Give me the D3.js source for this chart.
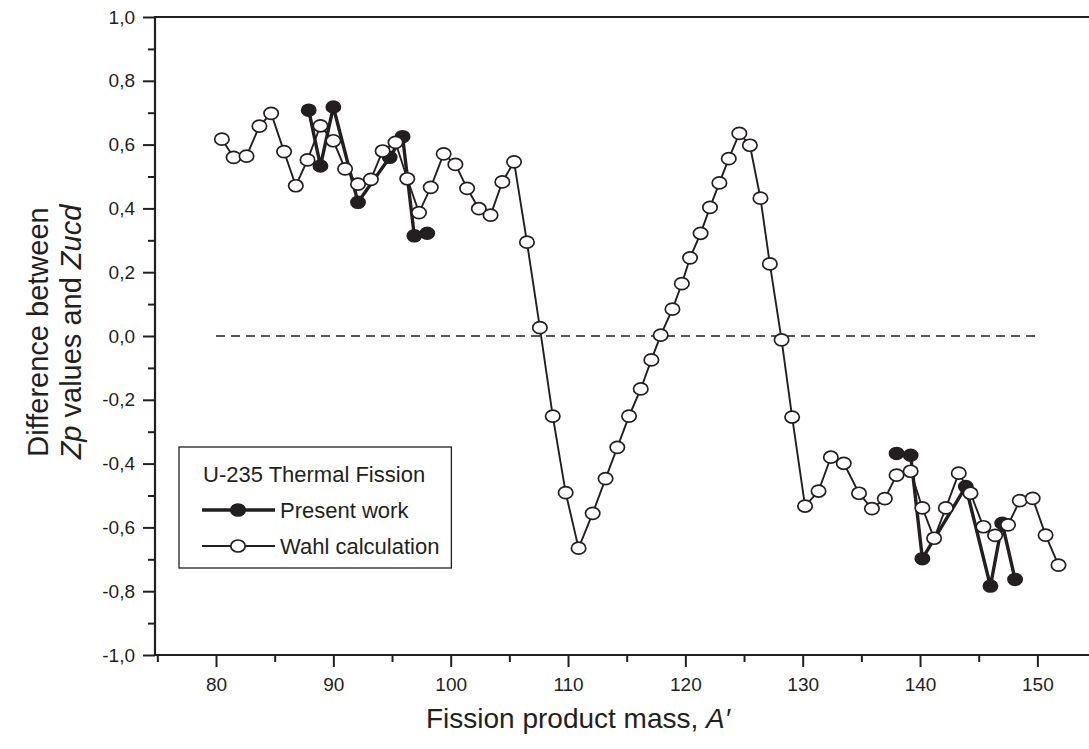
<!DOCTYPE html>
<html>
<head>
<meta charset="utf-8">
<script src="https://cdn.jsdelivr.net/npm/d3@7/dist/d3.min.js"></script>
<style>
  html, body { margin: 0; padding: 0; background: #fff; }
  svg { display: block; font-family: "Liberation Sans", Arial, sans-serif; }
</style>
</head>
<body>
<div id="chart"></div>
<script>
// Wahl calculation (open circles)
const wahlMass = [80.5, 81.5, 82.6, 83.7, 84.7, 85.8, 86.8, 87.8, 88.9, 90.0,
  91.0, 92.1, 93.2, 94.2, 95.3, 96.3, 97.3, 98.3, 99.4, 100.4,
  101.4, 102.4, 103.4, 104.4, 105.4, 106.5, 107.6, 108.7, 109.8, 110.9,
  112.1, 113.2, 114.2, 115.2, 116.2, 117.1, 117.9, 118.9, 119.7, 120.4,
  121.3, 122.1, 122.9, 123.7, 124.6, 125.5, 126.4, 127.2, 128.2, 129.1,
  130.2, 131.35, 132.4, 133.5, 134.8, 135.9, 137.0, 138.0, 139.2, 140.2,
  141.2, 142.2, 143.3, 144.3, 145.4, 146.4, 147.5, 148.5, 149.6, 150.7, 151.8];
const wahlDiff = [0.617, 0.560, 0.564, 0.658, 0.698, 0.578, 0.471, 0.552, 0.659, 0.612,
  0.524, 0.476, 0.491, 0.580, 0.607, 0.493, 0.387, 0.466, 0.571, 0.538,
  0.463, 0.399, 0.379, 0.483, 0.546, 0.294, 0.026, -0.251, -0.491, -0.665,
  -0.556, -0.447, -0.349, -0.251, -0.166, -0.075, 0.003, 0.084, 0.164, 0.245,
  0.322, 0.403, 0.480, 0.556, 0.635, 0.598, 0.432, 0.226, -0.012, -0.254,
  -0.533, -0.486, -0.380, -0.399, -0.493, -0.541, -0.510, -0.436, -0.424, -0.539,
  -0.634, -0.539, -0.430, -0.493, -0.598, -0.625, -0.592, -0.516, -0.509, -0.624, -0.718];

// Present work (filled circles), light and heavy fragment groups
const presentMass = [87.9, 88.9, 90.0, 92.1, 94.8, 95.9, 96.9, 98.0,
  138.0, 139.2, 140.2, 143.9, 146.0, 147.0, 148.1];
const presentDiff = [0.708, 0.533, 0.718, 0.419, 0.560, 0.625, 0.314, 0.322,
  -0.368, -0.374, -0.698, -0.472, -0.784, -0.587, -0.763];

const xTicks = [80, 90, 100, 110, 120, 130, 140, 150];
const yTicks = [-1.0, -0.8, -0.6, -0.4, -0.2, 0.0, 0.2, 0.4, 0.6, 0.8, 1.0];
const legendTitle = "U-235 Thermal Fission";
const seriesNames = ["Present work", "Wahl calculation"];

const W = 1089, H = 749;
const ink = "#231f20";
const font = "\"Liberation Sans\", Arial, sans-serif";

const svg = d3.select("#chart").append("svg")
  .attr("width", W).attr("height", H);

const x = d3.scaleLinear().domain([74.8, 154.4]).range([155, 1089]);
const y = d3.scaleLinear().domain([-1, 1]).range([655, 17]);

// 轴
const commaFmt = v => d3.format(".1f")(v).replace(".", ",").replace("−", "-");

svg.append("g")
  .attr("transform", `translate(0,${y(-1)})`)
  .call(d3.axisBottom(x).tickValues(xTicks).tickSize(12).tickPadding(11).tickFormat(d3.format("d")))
  .call(g => g.select(".domain").remove());
svg.append("g")
  .attr("transform", `translate(0,${y(-1)})`)
  .call(d3.axisBottom(x).tickValues(d3.range(75, 155, 10)).tickSize(7).tickFormat(""))
  .call(g => g.select(".domain").remove());

svg.append("g")
  .attr("transform", `translate(${x.range()[0]},0)`)
  .call(d3.axisLeft(y).tickValues(yTicks).tickSize(12).tickPadding(8).tickFormat(commaFmt))
  .call(g => g.select(".domain").remove());
svg.append("g")
  .attr("transform", `translate(${x.range()[0]},0)`)
  .call(d3.axisLeft(y).tickValues(d3.range(-0.9, 1.0, 0.2)).tickSize(7).tickFormat(""))
  .call(g => g.select(".domain").remove());

svg.selectAll(".tick line").attr("stroke", ink).attr("stroke-width", 2);
svg.selectAll(".tick text")
  .attr("fill", ink)
  .style("font-family", font)
  .style("font-size", "19px");

// 框线
svg.append("path")
  .attr("d", `M${x.range()[1]},${y(1)}H${x.range()[0]}V${y(-1)}H${x.range()[1]}`)
  .attr("fill", "none").attr("stroke", ink).attr("stroke-width", 2.2);

// 零线
svg.append("line")
  .attr("x1", x(80)).attr("x2", x(150))
  .attr("y1", y(0)).attr("y2", y(0))
  .attr("stroke", ink).attr("stroke-width", 1.6)
  .attr("stroke-dasharray", "9,6");

const wahl = wahlMass.map((m, i) => ({ m, v: wahlDiff[i] }));
const present = presentMass.map((m, i) => ({ m, v: presentDiff[i] }));
const presentSegs = [present.filter(d => d.m < 115), present.filter(d => d.m >= 115)];

const line = d3.line().x(d => x(d.m)).y(d => y(d.v));
const rx = 7.2, ry = 6.0;

// Present work
svg.append("g").selectAll("path")
  .data(presentSegs).enter().append("path")
  .attr("d", line)
  .attr("fill", "none").attr("stroke", ink).attr("stroke-width", 3.4);
svg.append("g").selectAll("ellipse")
  .data(present).enter().append("ellipse")
  .attr("cx", d => x(d.m)).attr("cy", d => y(d.v))
  .attr("rx", rx).attr("ry", ry)
  .attr("fill", ink).attr("stroke", ink).attr("stroke-width", 1.5);

// Wahl calculation
svg.append("path").datum(wahl)
  .attr("d", line)
  .attr("fill", "none").attr("stroke", ink).attr("stroke-width", 1.9);
svg.append("g").selectAll("ellipse")
  .data(wahl).enter().append("ellipse")
  .attr("cx", d => x(d.m)).attr("cy", d => y(d.v))
  .attr("rx", rx).attr("ry", ry)
  .attr("fill", "#fff").attr("stroke", ink).attr("stroke-width", 1.7);

// 轴标题
const xt = svg.append("text")
  .attr("x", 578).attr("y", 728)
  .attr("text-anchor", "middle").attr("fill", ink)
  .style("font-family", font).style("font-size", "28px");
xt.append("tspan").text("Fission product mass,  ");
xt.append("tspan").attr("font-style", "italic").text("A′");

const yt = svg.append("g").attr("transform", "translate(0,332) rotate(-90)");
yt.append("text")
  .attr("x", 0).attr("y", 48)
  .attr("text-anchor", "middle").attr("fill", ink)
  .style("font-family", font).style("font-size", "29px")
  .text("Difference between");
const yt2 = yt.append("text")
  .attr("x", 0).attr("y", 81)
  .attr("text-anchor", "middle").attr("fill", ink)
  .style("font-family", font).style("font-size", "29px");
yt2.append("tspan").attr("font-style", "italic").text("Zp");
yt2.append("tspan").text("  values and  ");
yt2.append("tspan").attr("font-style", "italic").text("Zucd");

// 图例
const lg = svg.append("g");
const box = lg.append("rect")
  .attr("x", 179).attr("y", 447).attr("height", 121)
  .attr("fill", "#fff").attr("stroke", ink).attr("stroke-width", 1.3);
const texts = [];
texts.push(lg.append("text")
  .attr("x", 203).attr("y", 482).attr("fill", ink)
  .style("font-family", font).style("font-size", "22px")
  .text(legendTitle));

const rows = [
  { name: seriesNames[0], yy: 510, fill: ink, sw: 3.4 },
  { name: seriesNames[1], yy: 546, fill: "#fff", sw: 1.9 }
];
rows.forEach(r => {
  lg.append("line")
    .attr("x1", 202).attr("x2", 275).attr("y1", r.yy).attr("y2", r.yy)
    .attr("stroke", ink).attr("stroke-width", r.sw);
  lg.append("ellipse")
    .attr("cx", 238).attr("cy", r.yy).attr("rx", rx).attr("ry", ry)
    .attr("fill", r.fill).attr("stroke", ink).attr("stroke-width", 1.7);
  texts.push(lg.append("text")
    .attr("x", 280).attr("y", r.yy + 8).attr("fill", ink)
    .style("font-family", font).style("font-size", "22px")
    .text(r.name));
});
const right = d3.max(texts, t => +t.attr("x") + t.node().getComputedTextLength());
box.attr("width", right + 12 - 179);
</script>
</body>
</html>
